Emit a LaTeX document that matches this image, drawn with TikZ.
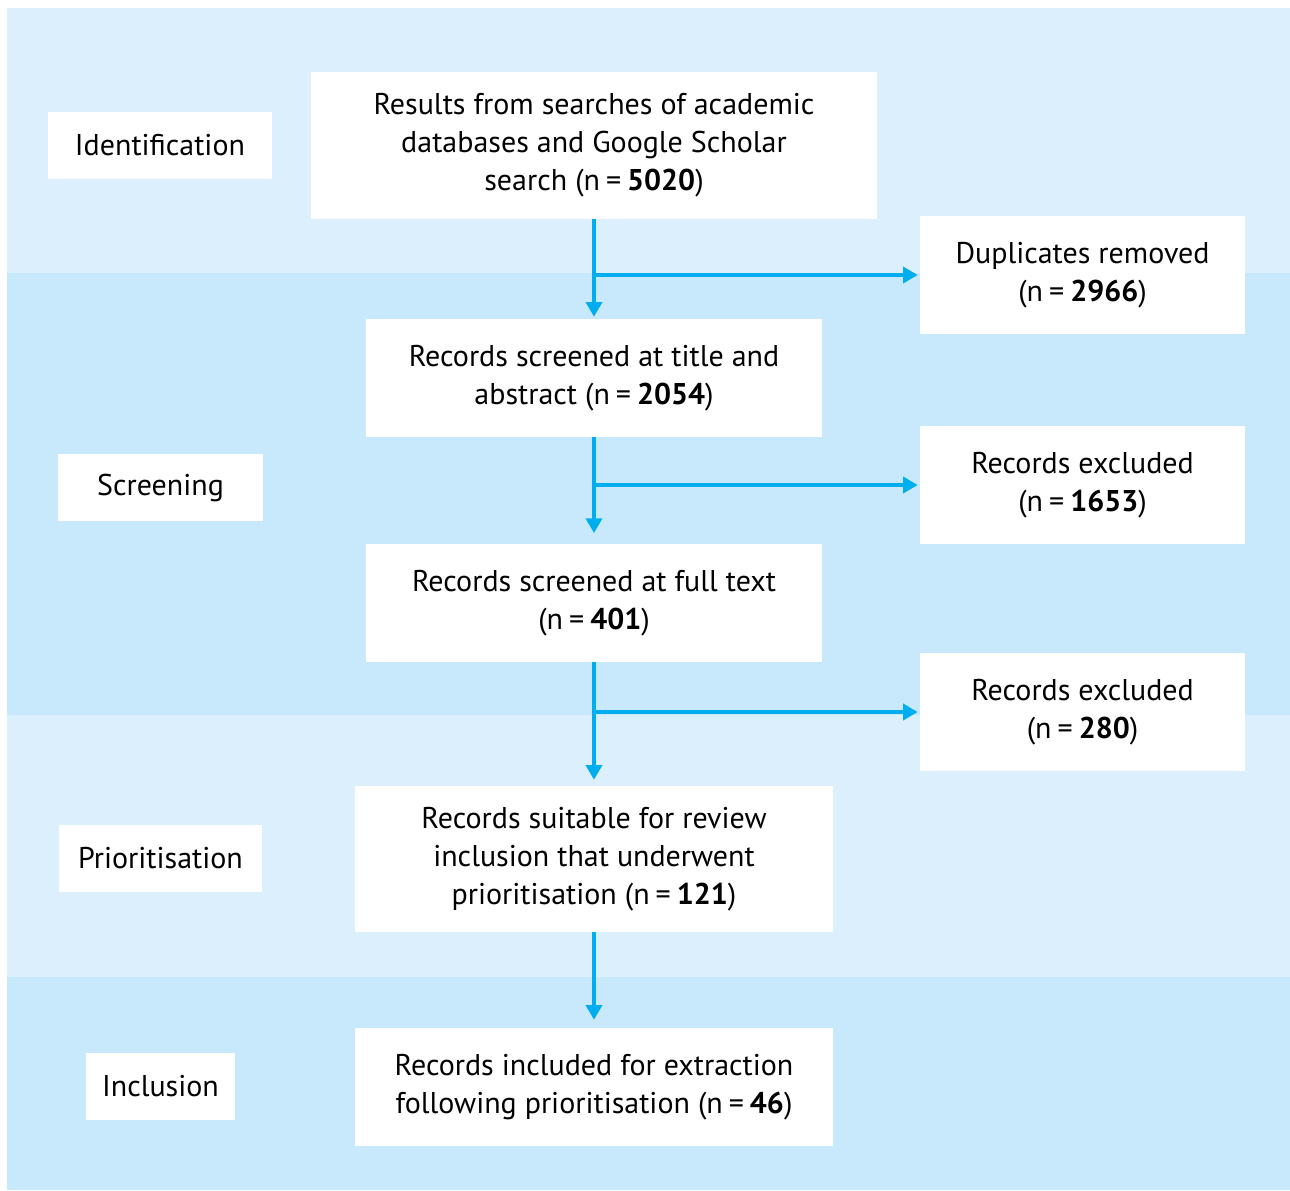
\documentclass[tikz,border=0pt]{standalone}
\usepackage{fontspec}
\setmainfont{PT Sans}
\usetikzlibrary{arrows.meta}
\definecolor{bandlight}{RGB}{220,239,252}
\definecolor{banddark}{RGB}{199,233,251}
\definecolor{flowcyan}{RGB}{0,174,239}
\newcommand{\eqn}{\hspace{0.2em}=\hspace{0.2em}}
\tikzstyle{stagebox} = [fill=white, inner sep=0pt, align=center, font=\fontsize{22.5}{28.5}\selectfont]
\tikzstyle{flowline} = [draw=flowcyan, line width=2.6pt, -{Triangle[width=12pt 0 0,length=11pt 0 0]}]

\begin{document}
\begin{tikzpicture}[x=0.75pt,y=0.75pt,yscale=-1,xscale=1]
\useasboundingbox (0,0) rectangle (1290,1190);

% Bands
\fill [bandlight] (7,8) rectangle (1290,273);
\fill [banddark] (7,273) rectangle (1290,715);
\fill [bandlight] (7,715) rectangle (1290,977);
\fill [banddark] (7,977) rectangle (1290,1190);

% Stage labels
\node [stagebox, minimum width=168pt, minimum height=50.25pt] (ident) at (160,145.5) {Identification};
\node [stagebox, minimum width=153.75pt, minimum height=50.25pt] (screen) at (160.5,487.5) {Screening};
\node [stagebox, minimum width=152.25pt, minimum height=50.25pt] (prior) at (160.5,858.5) {Prioritisation};
\node [stagebox, minimum width=111.75pt, minimum height=50.25pt] (incl) at (160.5,1086.5) {Inclusion};

% Main column
\node [stagebox, minimum width=424.5pt, minimum height=110.25pt] (results) at (594,145.5)
  {Results from searches of academic\\ databases and Google Scholar\\ search (n\eqn\textbf{5020})};
\node [stagebox, minimum width=342pt, minimum height=88.5pt] (title) at (594,378)
  {Records screened at title and\\ abstract (n\eqn\textbf{2054})};
\node [stagebox, minimum width=342pt, minimum height=88.5pt] (fulltext) at (594,603)
  {Records screened at full text\\ (n\eqn\textbf{401})};
\node [stagebox, minimum width=358.5pt, minimum height=109.5pt] (suitable) at (594,859)
  {Records suitable for review\\ inclusion that underwent\\ prioritisation (n\eqn\textbf{121})};
\node [stagebox, minimum width=358.5pt, minimum height=88.5pt] (included) at (594,1087)
  {Records included for extraction\\ following prioritisation (n\eqn\textbf{46})};

% Side column
\node [stagebox, minimum width=243.75pt, minimum height=88.5pt] (dup) at (1082.5,275)
  {Duplicates removed\\ (n\eqn\textbf{2966})};
\node [stagebox, minimum width=243.75pt, minimum height=88.5pt] (exclA) at (1082.5,485)
  {Records excluded\\ (n\eqn\textbf{1653})};
\node [stagebox, minimum width=243.75pt, minimum height=88.5pt] (exclB) at (1082.5,712)
  {Records excluded\\ (n\eqn\textbf{280})};

% Arrows
\draw [flowline, shorten >=1.5pt] (results) -- (title);
\draw [flowline, shorten >=1.5pt] (results.south |- dup.west) -- (dup.west);
\draw [flowline, shorten >=8pt] (title) -- (fulltext);
\draw [flowline, shorten >=1.5pt] (title.south |- exclA.west) -- (exclA.west);
\draw [flowline, shorten >=4.5pt] (fulltext) -- (suitable);
\draw [flowline, shorten >=1.5pt] (fulltext.south |- exclB.west) -- (exclB.west);
\draw [flowline, shorten >=6pt] (suitable) -- (included);

\end{tikzpicture}
\end{document}
